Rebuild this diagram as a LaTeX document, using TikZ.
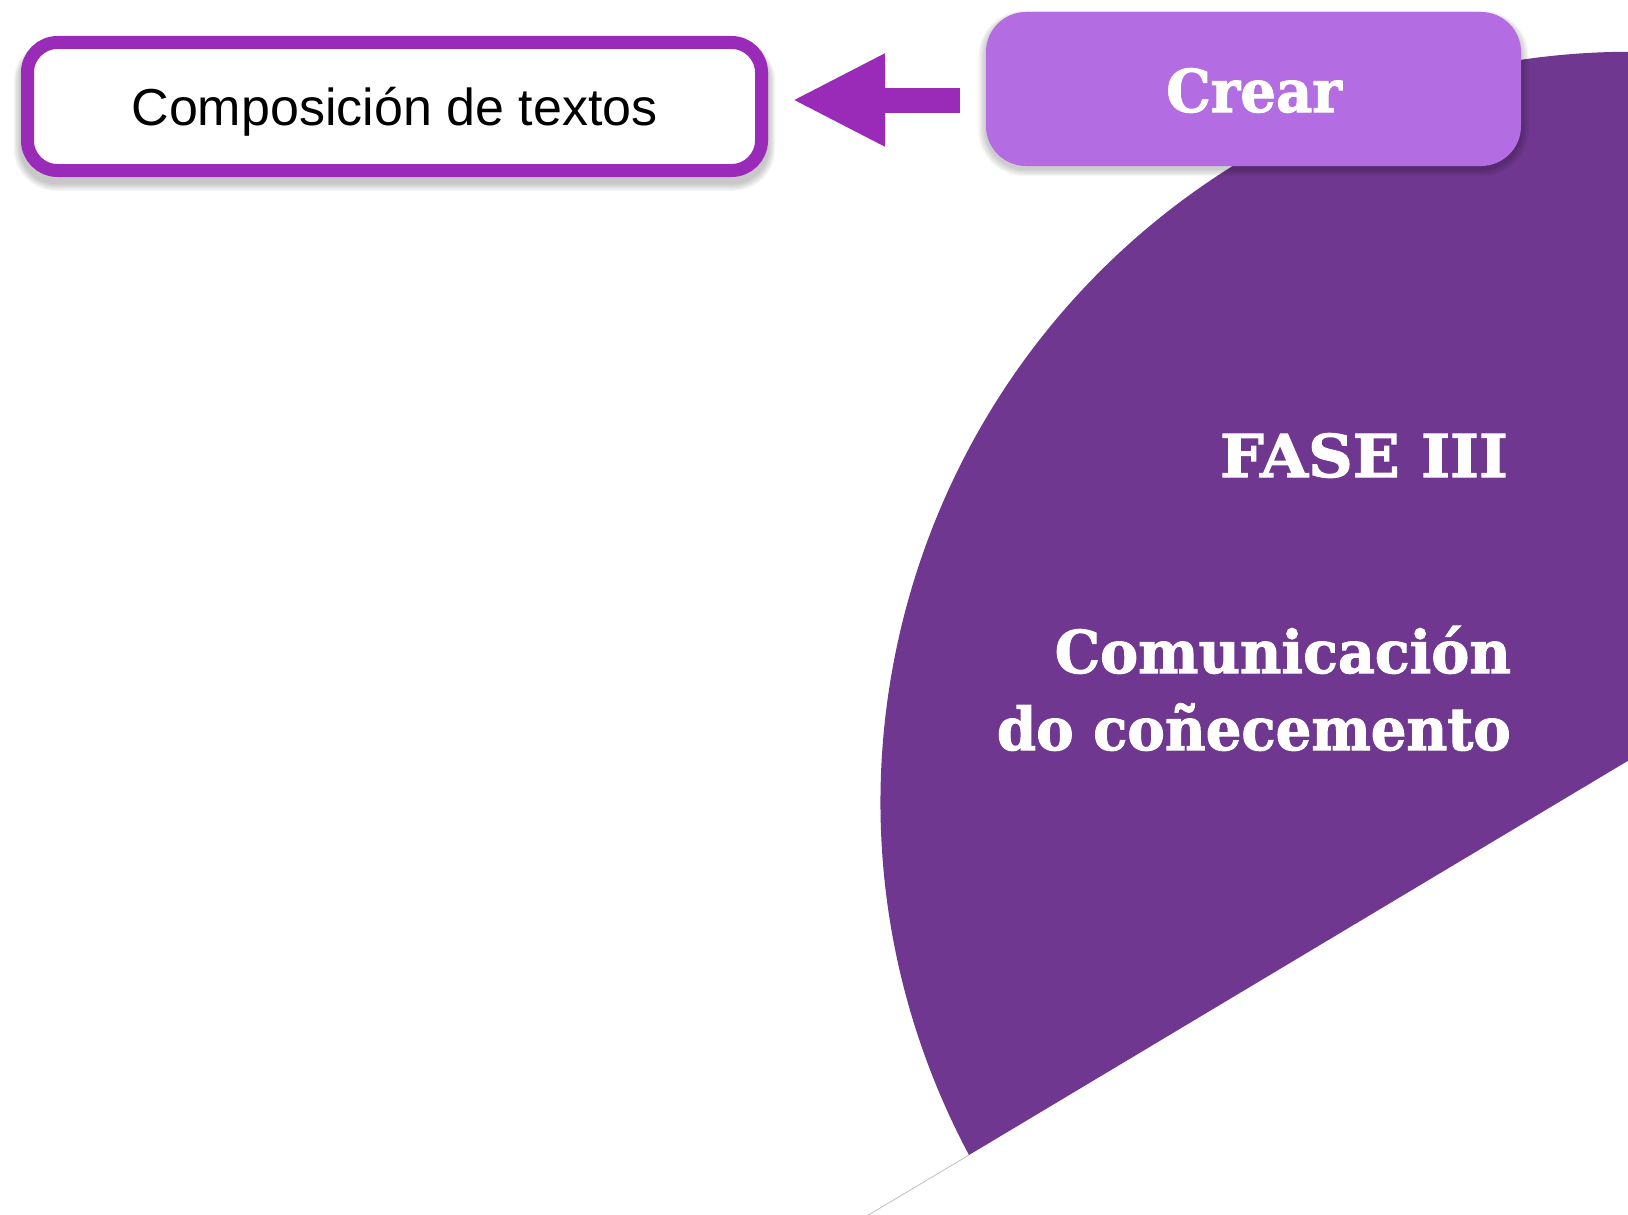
\documentclass[tikz,border=0pt]{standalone}
\usepackage{fontspec}
\setmainfont{Liberation Sans}
\newfontfamily\slabfont{DejaVu Serif}[BoldFeatures={FakeBold=1.8}]
\usetikzlibrary{arrows.meta}
\definecolor{wedgecol}{RGB}{111,55,143}
\definecolor{bordercol}{RGB}{153,43,184}
\definecolor{crearcol}{RGB}{179,108,225}
\tikzset{
  slabtext/.style={text=white, inner sep=0pt, font=\slabfont\bfseries\fontsize{59}{70}\selectfont},
  compbox/.style={draw=bordercol, line width=13pt, fill=white, rounded corners=30pt, minimum width=734pt, minimum height=128pt, inner sep=0pt, font=\fontsize{52}{60}\selectfont},
  crearbox/.style={fill=crearcol, rounded corners=40pt, minimum width=535pt, minimum height=154pt, inner sep=0pt},
  blockarrow/.style={draw=bordercol, line width=25pt, -{Triangle[length=93pt,width=86pt]}},
}
\begin{document}
\begin{tikzpicture}[x=1pt,y=-1pt]
\useasboundingbox (0,0) rectangle (1628,1215);
\begin{scope}
\clip (0,0) rectangle (1628,1215);
% faint edge of neighbouring slice
\draw[black!25, line width=0.8pt] (969,1155) -- (860,1220);
% wedge
\fill[wedgecol] (969,1155) arc[start angle=151.9, end angle=280, radius=750] -- (1763,680) -- cycle;
\end{scope}
% shadows of Crear box
\foreach \i in {1,...,6}{
  \fill[black, opacity=0.035, rounded corners=40pt+\i pt] (986-\i*1.3,12+3-\i*0.7) rectangle (1521+\i*1.3,166+3+\i*1.2);
}
% shadows of Composición box
\foreach \i in {1,...,6}{
  \fill[black, opacity=0.04, rounded corners=36pt+\i pt] (21-\i*1.2,36+6-\i*0.4) rectangle (768+\i*1.2,177+6+\i*1.3);
}
\node[compbox] (comp) at (394.5,106.5) {\raisebox{-5pt}[\height][\depth]{Composición de textos}};
\node[crearbox] (crear) at (1253.5,89) {};
\node[slabtext, anchor=base] (crearlbl) at (1254,112) {\scalebox{0.95}[1]{Crear}};
\coordinate (arrS) at (960,100);
\coordinate (arrE) at (792,100);
\draw[blockarrow] (arrS) -- (arrE);
\node[slabtext, anchor=base east] (fase) at (1508,477) {\scalebox{1.046}[1]{FASE III}};
\node[slabtext, anchor=base east] (com1) at (1511,673) {\scalebox{0.967}[1]{Comunicación}};
\node[slabtext, anchor=base east] (com2) at (1511,750) {\scalebox{0.952}[1]{do coñecemento}};
\end{tikzpicture}
\end{document}
